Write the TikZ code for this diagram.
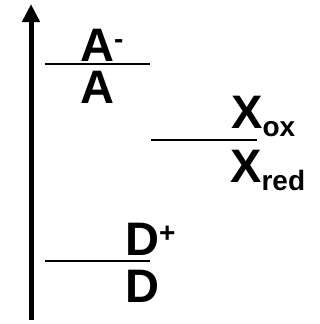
\documentclass[tikz,border=0pt]{standalone}
\usepackage{fontspec}
\setmainfont{Liberation Sans}
\usetikzlibrary{arrows.meta}
\newcommand{\ionhi}[1]{\raisebox{13pt}{\fontsize{28}{28}\selectfont #1}}
\newcommand{\ionlo}[1]{\raisebox{-8pt}{\fontsize{28}{28}\selectfont #1}}
\tikzset{
  level/.style={line width=1.6pt},
  lbl/.style={font=\fontsize{47}{47}\selectfont\bfseries, inner sep=0pt,
    text height=34pt, text depth=0pt, anchor=base west}
}
\begin{document}
\begin{tikzpicture}[x=1pt,y=-1pt]
  \useasboundingbox (0,0) rectangle (320,324);
  % energy axis
  \coordinate (axisbot) at (31,320);
  \coordinate (axistop) at (31,4);
  \draw[line width=5pt, -{Triangle[length=18pt,width=17pt]}] (axisbot) -- (axistop);
  % acceptor level
  \coordinate (acl) at (45,64);
  \coordinate (acr) at (150,64);
  \draw[level] (acl) -- (acr);
  \node[lbl] (aminus) at (80,61) {A\ionhi{-}};
  \node[lbl] (aneut) at (80,103) {A};
  % mediator level
  \coordinate (mel) at (151,140);
  \coordinate (mer) at (257,140);
  \draw[level] (mel) -- (mer);
  \node[lbl] (xox) at (231,128) {X\ionlo{ox}};
  \node[lbl] (xred) at (230,182) {X\ionlo{red}};
  % donor level
  \coordinate (dol) at (45,261);
  \coordinate (dor) at (150,261);
  \draw[level] (dol) -- (dor);
  \node[lbl] (dplus) at (125,255) {D\ionhi{+}};
  \node[lbl] (dneut) at (125,302) {D};
\end{tikzpicture}
\end{document}
